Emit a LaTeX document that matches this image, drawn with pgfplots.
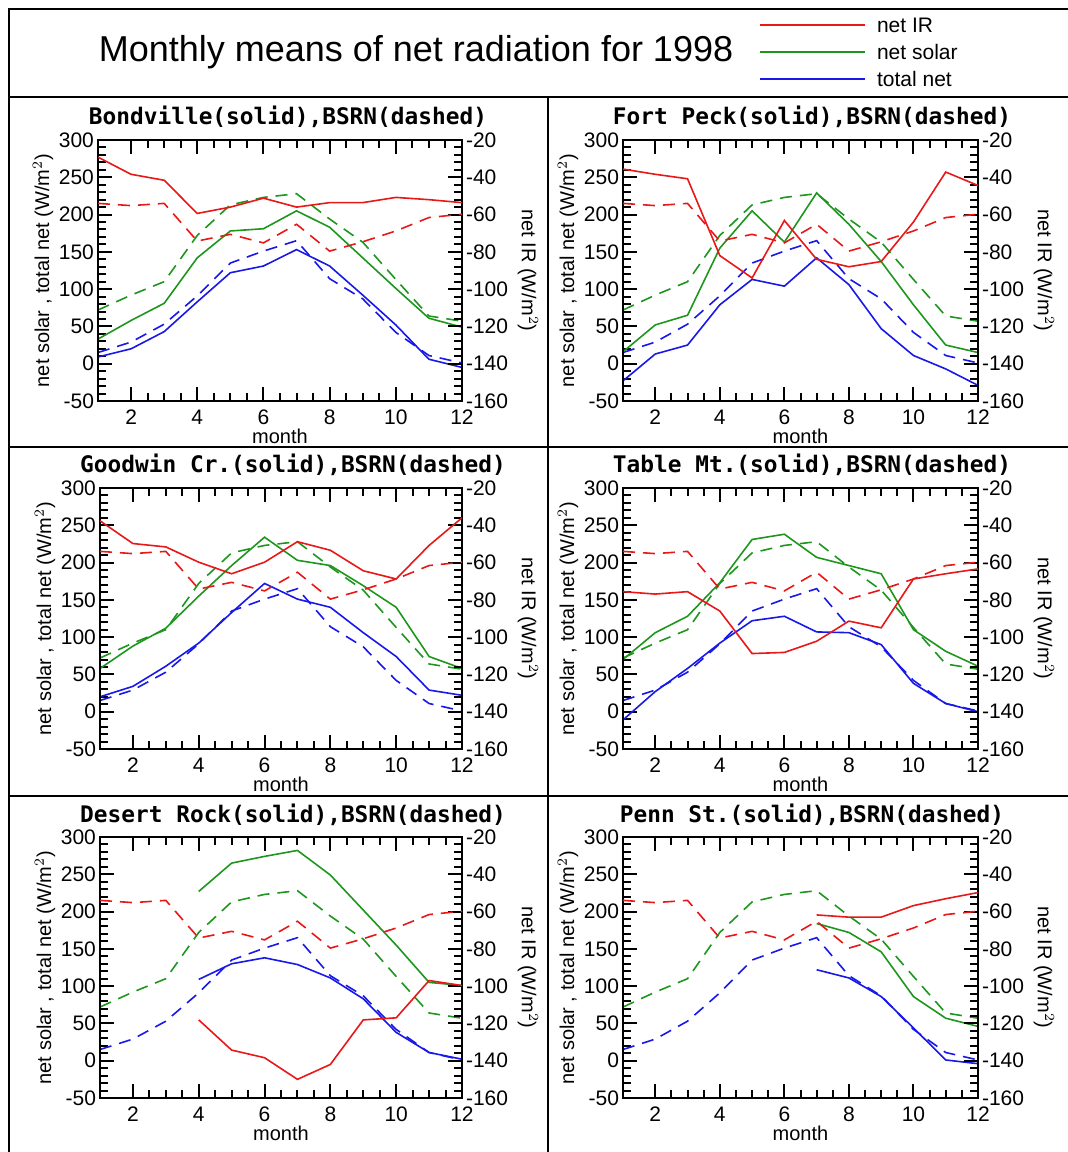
\documentclass[border=0pt]{standalone}
\usepackage{fontspec}
\setmainfont{Liberation Sans}
\newfontfamily\monob{DejaVu Sans Mono Bold}
\usepackage{pgfplots}
\pgfplotsset{compat=1.18}
\usepackage{pgfplotstable}

\definecolor{irred}{RGB}{232,24,24}
\definecolor{solgreen}{RGB}{30,150,30}
\definecolor{totblue}{RGB}{24,24,232}

% columns: month, net IR, net solar, total net
\pgfplotstableread{
m ir sol tot
1 -54.0 72 15
2 -55.2 92 29
3 -54.0 110 53
4 -74.2 172 91
5 -70.6 213 135
6 -75.2 223 151
7 -65.2 228 165
8 -79.6 194 114
9 -74.6 163 87
10 -68.8 113 42
11 -61.6 64 11
12 -59.8 57 1
}\bsrn
\pgfplotstableread{
m ir sol tot
1 -29.2 33 9
2 -38.4 58 20
3 -41.6 81 43
4 -59.4 142 83
5 -56.0 178 122
6 -51.2 181 131
7 -56.0 205 153
8 -53.6 183 131
9 -53.6 142 92
10 -50.8 101 52
11 -52.0 61 6
12 -53.6 49 -5
}\bondville
\pgfplotstableread{
m ir sol tot
1 -35.6 16 -23
2 -38.4 52 13
3 -40.8 65 25
4 -82.0 155 79
5 -94.0 205 113
6 -63.2 163 104
7 -84.0 229 142
8 -88.0 187 106
9 -85.2 137 47
10 -64.0 79 11
11 -37.2 25 -7
12 -44.4 15 -29
}\fortpeck
\pgfplotstableread{
m ir sol tot
1 -37.6 58 20
2 -49.8 88 34
3 -51.6 112 61
4 -59.8 155 92
5 -66.0 196 133
6 -59.8 234 172
7 -48.8 203 151
8 -53.4 196 140
9 -64.4 169 106
10 -68.8 140 74
11 -50.8 74 29
12 -36.0 58 22
}\goodwin
\pgfplotstableread{
m ir sol tot
1 -75.6 70 -11
2 -76.9 106 27
3 -75.6 128 58
4 -86.0 173 92
5 -108.8 231 122
6 -108.2 238 128
7 -102.2 207 107
8 -91.4 196 106
9 -95.0 185 90
10 -68.8 110 38
11 -66.0 81 11
12 -63.4 61 0
}\tablemt
\pgfplotstableread{
m ir sol tot
4 -118.1 227 109
5 -134.3 265 130
6 -138.4 274 138
7 -150.0 282 129
8 -142.0 249 111
9 -118.1 202 83
10 -117.0 155 38
11 -97.0 105 11
12 -99.7 101 2
}\desertrock
\pgfplotstableread{
m ir sol tot
7 -61.8 184 122
8 -63.0 172 111
9 -63.0 146 86
10 -56.8 86 44
11 -53.1 57 1
12 -49.8 46 -4
}\pennst

\pgfplotsset{
  panel/.style={scale only axis, height=130.5pt, anchor=south west,
    xmin=1, xmax=12, tick align=inside,
    major tick length=7pt, minor tick length=4pt,
    every tick/.append style={draw=black, solid, line width=1pt},
    major tick style={draw=black, line width=1pt},
    minor tick style={draw=black, line width=1pt},
    axis line style={line width=1.1pt},
    tick label style={font=\fontsize{10.5}{12}\selectfont},
    label style={font=\fontsize{10}{12}\selectfont},
    /pgf/number format/assume math mode=true},
  lhs/.style={panel, ymin=-50, ymax=300, ytick={-50,0,...,300},
    minor y tick num=4, ytick pos=left, xtick pos=both,
    xtick={2,4,...,12}, minor x tick num=3,
    xlabel={month}, xlabel style={yshift=5pt},
    ylabel={net solar , total net (W/m$^2$)}, ylabel style={yshift=-4pt},
    yticklabel style={xshift=1.5pt},
    xticklabel style={yshift=-1pt}},
  rhs/.style={panel, ymin=-160, ymax=-20, ytick={-160,-140,...,-20},
    minor y tick num=4, ytick pos=right, yticklabel pos=right,
    hide x axis,
    ylabel={net IR (W/m$^2$)}, ylabel style={rotate=180, yshift=-2pt},
    yticklabel style={xshift=-1.5pt}},
  sl/.style={line width=0.8pt, mark=none},
  bs/.style={line width=0.8pt, mark=none, dash pattern=on 6pt off 4pt},
}

\newcommand\panel[4]{%
\begin{axis}[lhs, at={(#1,#2)}, width=#3]
\addplot[solgreen, bs] table[x=m, y=sol]{\bsrn};
\addplot[totblue, bs] table[x=m, y=tot]{\bsrn};
\addplot[solgreen, sl] table[x=m, y=sol]{#4};
\addplot[totblue, sl] table[x=m, y=tot]{#4};
\end{axis}
\begin{axis}[rhs, at={(#1,#2)}, width=#3]
\addplot[irred, bs] table[x=m, y=ir]{\bsrn};
\addplot[irred, sl] table[x=m, y=ir]{#4};
\end{axis}}

\begin{document}
\begin{tikzpicture}
\useasboundingbox (0pt,0pt) rectangle (534pt,576pt);
\begin{scope}[x=0.5pt, y=0.5pt]
% frame and dividers
\draw[line width=1.3pt] (9,0) -- (9,1143) -- (1068,1143);
\draw[line width=1.3pt] (9,1055) -- (1068,1055);
\draw[line width=1.3pt] (9,705) -- (1068,705);
\draw[line width=1.3pt] (9,356) -- (1068,356);
\draw[line width=1.3pt] (548,0) -- (548,1055);
% heading and key
\node[font=\fontsize{18}{21}\selectfont] at (416,1100) {Monthly means of net radiation for 1998};
\draw[irred, line width=0.8pt] (760,1127) -- (865,1127);
\draw[solgreen, line width=0.8pt] (760,1100) -- (865,1100);
\draw[totblue, line width=0.8pt] (760,1073) -- (865,1073);
\node[anchor=west, font=\fontsize{10.5}{12}\selectfont] at (870,1127) {net IR};
\node[anchor=west, font=\fontsize{10.5}{12}\selectfont] at (870,1100) {net solar};
\node[anchor=west, font=\fontsize{10.5}{12}\selectfont] at (870,1073) {total net};
% panel titles
\node[font=\monob\fontsize{11.4}{13}\selectfont] at (288,1035) {Bondville(solid),BSRN(dashed)};
\node[font=\monob\fontsize{11.4}{13}\selectfont] at (812,1035) {Fort Peck(solid),BSRN(dashed)};
\node[font=\monob\fontsize{11.4}{13}\selectfont] at (293,687) {Goodwin Cr.(solid),BSRN(dashed)};
\node[font=\monob\fontsize{11.4}{13}\selectfont] at (812,687) {Table Mt.(solid),BSRN(dashed)};
\node[font=\monob\fontsize{11.4}{13}\selectfont] at (293,337) {Desert Rock(solid),BSRN(dashed)};
\node[font=\monob\fontsize{11.4}{13}\selectfont] at (812,337) {Penn St.(solid),BSRN(dashed)};
\end{scope}
% panels
\panel{49pt}{375.5pt}{182pt}{\bondville}
\panel{311.5pt}{375.5pt}{177.5pt}{\fortpeck}
\panel{50pt}{201.5pt}{181pt}{\goodwin}
\panel{311.5pt}{201.5pt}{177.5pt}{\tablemt}
\panel{50pt}{27pt}{181pt}{\desertrock}
\panel{311.5pt}{27pt}{177.5pt}{\pennst}
\end{tikzpicture}
\end{document}
